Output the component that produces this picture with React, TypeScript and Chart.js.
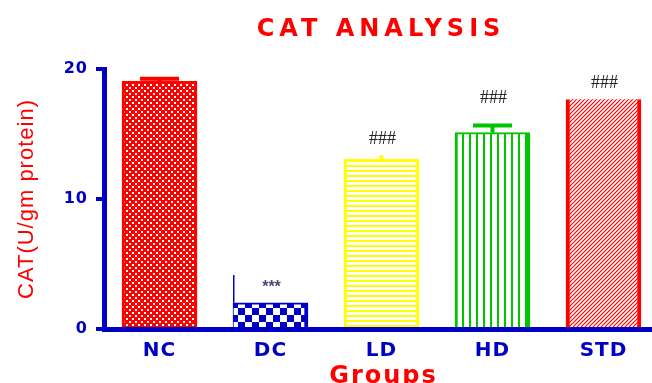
import React, { useEffect, useRef } from 'react';
import { Chart, registerables } from 'chart.js';

Chart.register(...registerables);

// ---- data ----
const categories = ['NC', 'DC', 'LD', 'HD', 'STD'];
const catValues = [19.05, 2.02, 13.05, 15.1, 17.67];
const catErrors = [0.2, 2.13, 0.2, 0.55, 0];
const significance = ['', '***', '###', '###', '###'];
const yTicks = [0, 10, 20];
const chartTitle = 'CAT ANALYSIS';
const xTitle = 'Groups';
const yTitle = 'CAT(U/gm protein)';

// ---- styles ----
const BLUE = '#0000C4';
const RED = '#FF0000';
const YELLOW = '#FFFF00';
const GREEN = '#00C400';

type BarStyle = {
  color: string;
  pattern: string;
  bw: { top: number; left: number; right: number; bottom: number };
  errAnchor: 'center' | 'left';
  stem: number;
  cap: number;
  capT: number;
  markGap: number;
  markColor: string;
};

const barStyles: BarStyle[] = [
  { color: RED, pattern: 'fineChecker', bw: { top: 3, left: 3, right: 3, bottom: 0 }, errAnchor: 'center', stem: 4, cap: 39, capT: 4, markGap: 16, markColor: '#222' },
  { color: BLUE, pattern: 'bigChecker', bw: { top: 2, left: 1, right: 4, bottom: 0 }, errAnchor: 'left', stem: 1.5, cap: 0, capT: 0, markGap: 15, markColor: '#4a4a78' },
  { color: YELLOW, pattern: 'hLines', bw: { top: 3, left: 3, right: 3, bottom: 0 }, errAnchor: 'center', stem: 3, cap: 4, capT: 3, markGap: 17, markColor: '#222' },
  { color: GREEN, pattern: 'vLines', bw: { top: 2, left: 3, right: 4, bottom: 0 }, errAnchor: 'center', stem: 4, cap: 39, capT: 4, markGap: 27, markColor: '#222' },
  { color: RED, pattern: 'diag', bw: { top: 0, left: 4, right: 4, bottom: 0 }, errAnchor: 'center', stem: 3, cap: 20, capT: 3, markGap: 16, markColor: '#222' },
];

function makePattern(w: number, h: number, draw: (g: CanvasRenderingContext2D) => void): CanvasPattern | string {
  const c = document.createElement('canvas');
  c.width = w;
  c.height = h;
  const g = c.getContext('2d');
  if (!g) return '#fff';
  draw(g);
  return g.createPattern(c, 'repeat') || '#fff';
}

function buildPatterns(): Record<string, CanvasPattern | string> {
  return {
    fineChecker: makePattern(6, 6, (g) => {
      g.fillStyle = RED;
      g.fillRect(0, 0, 6, 6);
      g.fillStyle = '#fff';
      g.fillRect(0, 0, 2, 2);
      g.fillRect(3, 3, 2, 2);
    }),
    bigChecker: makePattern(14, 14, (g) => {
      g.fillStyle = '#fff';
      g.fillRect(0, 0, 14, 14);
      g.fillStyle = BLUE;
      g.fillRect(0, 0, 7, 7);
      g.fillRect(7, 7, 7, 7);
    }),
    hLines: makePattern(5, 5, (g) => {
      g.fillStyle = '#fff';
      g.fillRect(0, 0, 5, 5);
      g.fillStyle = YELLOW;
      g.fillRect(0, 0, 5, 2);
    }),
    vLines: makePattern(7, 7, (g) => {
      g.fillStyle = '#fff';
      g.fillRect(0, 0, 7, 7);
      g.fillStyle = GREEN;
      g.fillRect(0, 0, 2, 7);
    }),
    diag: makePattern(4, 4, (g) => {
      g.fillStyle = '#fff';
      g.fillRect(0, 0, 4, 4);
      g.strokeStyle = RED;
      g.lineWidth = 1.2;
      g.beginPath();
      g.moveTo(0, 4);
      g.lineTo(4, 0);
      g.moveTo(-1, 1);
      g.lineTo(1, -1);
      g.moveTo(3, 5);
      g.lineTo(5, 3);
      g.stroke();
    }),
  };
}

const textSpacingPlugin = {
  id: 'textSpacing',
  beforeDraw(chart: any) {
    (chart.ctx as any).letterSpacing = '1px';
  },
  afterDraw(chart: any) {
    (chart.ctx as any).letterSpacing = '0px';
  },
};

const overlayPlugin = {
  id: 'overlay',
  afterDraw(chart: any) {
    const ctx: CanvasRenderingContext2D = chart.ctx;
    const ys = chart.scales.y;
    const xs = chart.scales.x;
    const meta = chart.getDatasetMeta(0);
    ctx.save();
    (ctx as any).letterSpacing = '0px';
    meta.data.forEach((bar: any, i: number) => {
      const st = barStyles[i];
      const v = catValues[i];
      const e = catErrors[i];
      const yTopVal = ys.getPixelForValue(v + e);
      const yBar = ys.getPixelForValue(v);
      if (e > 0) {
        const x = st.errAnchor === 'left' ? bar.x - bar.width / 2 + st.stem / 2 : bar.x;
        ctx.strokeStyle = st.color;
        ctx.lineWidth = st.stem;
        ctx.beginPath();
        ctx.moveTo(x, yBar);
        ctx.lineTo(x, yTopVal);
        ctx.stroke();
        if (st.cap > 0) {
          ctx.lineWidth = st.capT;
          ctx.beginPath();
          ctx.moveTo(x - st.cap / 2, yTopVal);
          ctx.lineTo(x + st.cap / 2, yTopVal);
          ctx.stroke();
        }
      }
      const mark = significance[i];
      if (mark) {
        const ref = st.errAnchor === 'left' ? yBar : yTopVal;
        ctx.fillStyle = st.markColor;
        ctx.font = mark.startsWith('#') ? '18px "Liberation Serif"' : 'bold 16px "Liberation Sans"';
        ctx.textAlign = 'center';
        ctx.textBaseline = 'middle';
        ctx.fillText(mark, bar.x + 1, ref - st.markGap);
      }
    });
    // chart title
    const area = chart.chartArea;
    ctx.fillStyle = RED;
    ctx.font = 'bold 24px "DejaVu Sans"';
    (ctx as any).letterSpacing = '5px';
    ctx.textAlign = 'center';
    ctx.textBaseline = 'alphabetic';
    ctx.fillText(chartTitle, (area.left + area.right) / 2 + 3, 36);
    // x axis title
    ctx.font = 'bold 24px "DejaVu Sans"';
    (ctx as any).letterSpacing = '2px';
    ctx.fillText(xTitle, xs.getPixelForValue((categories.length - 1) / 2) + 2, 383);
    ctx.restore();
  },
};

export default function App() {
  const ref = useRef<HTMLCanvasElement | null>(null);
  useEffect(() => {
    document.body.style.margin = '0';
    const canvas = ref.current;
    if (!canvas) return;
    const pats = buildPatterns();
    const chart = new Chart(canvas, {
      type: 'bar',
      data: {
        datasets: [
          {
            data: catValues.map((v, i) => ({ x: i, y: v })),
            xAxisID: 'x',
            yAxisID: 'y',
            backgroundColor: barStyles.map((s) => pats[s.pattern]) as any,
            borderColor: barStyles.map((s) => s.color),
            borderWidth: ((c: any) => barStyles[c.dataIndex]?.bw ?? 0) as any,
            borderSkipped: false,
            barThickness: 75,
          } as any,
        ],
      },
      options: {
        responsive: false,
        animation: false,
        devicePixelRatio: 1,
        layout: { padding: { top: 69, left: 0, right: 0, bottom: 0 } },
        plugins: {
          legend: { display: false },
          tooltip: { enabled: false },
          title: { display: false },
        },
        scales: {
          x: {
            type: 'linear',
            position: 'bottom',
            offset: false,
            min: -0.5,
            max: 4.437,
            afterBuildTicks: (s: any) => {
              s.ticks = categories.map((_, i) => ({ value: i }));
            },
            afterFit: (s: any) => {
              s.height = 54;
            },
            ticks: {
              callback: (v: any) => categories[Math.round(Number(v))] ?? '',
              color: BLUE,
              font: { family: '"DejaVu Sans"', size: 20, weight: 'bold' },
              padding: 2,
              autoSkip: false,
              maxRotation: 0,
            },
            grid: { display: false, offset: false },
            border: { color: BLUE, width: 5 },
          },
          y: {
            type: 'linear',
            min: 0,
            max: 20,
            afterBuildTicks: (s: any) => {
              s.ticks = yTicks.map((v) => ({ value: v }));
            },
            afterFit: (s: any) => {
              s.width = 104;
            },
            ticks: {
              color: BLUE,
              font: { family: '"DejaVu Sans"', size: 16, weight: 'bold' },
              padding: 8,
            },
            grid: {
              drawOnChartArea: false,
              drawTicks: true,
              tickLength: 8,
              tickWidth: 4,
              tickColor: BLUE,
              color: BLUE,
              lineWidth: 4,
            },
            border: { color: BLUE, width: 5 },
            title: {
              display: true,
              text: yTitle,
              color: RED,
              font: { family: '"Liberation Sans"', size: 22, weight: 'normal' },
              padding: { top: 14, bottom: 0 },
            },
          },
        },
      } as any,
      plugins: [textSpacingPlugin, overlayPlugin],
    });
    return () => chart.destroy();
  }, []);
  return <canvas ref={ref} width={652} height={383} style={{ display: 'block' }} />;
}
